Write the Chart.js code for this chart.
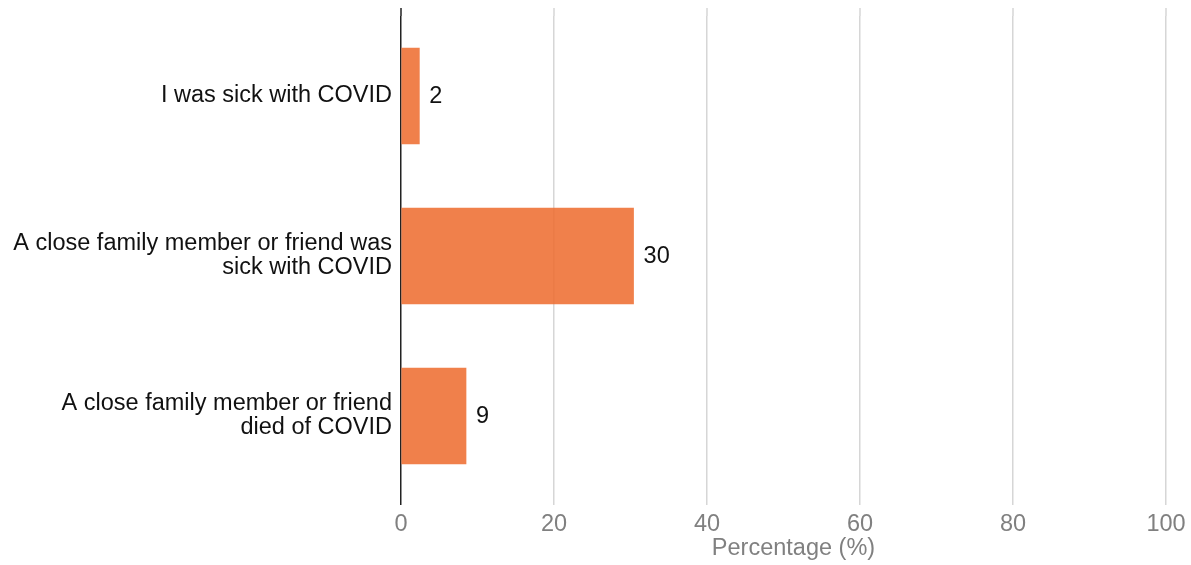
<!DOCTYPE html>
<html>
<head>
<meta charset="utf-8">
<script src="https://cdn.jsdelivr.net/npm/chart.js@4"></script>
<style>
  html, body { margin: 0; padding: 0; background: #fff; }
  #wrap { width: 1191px; height: 565px; }
</style>
</head>
<body>
<div id="wrap"><canvas id="myChart" width="1191" height="565"></canvas></div>
<script>
const categories = [
  "I was sick with COVID",
  ["A close family member or friend was", "sick with COVID"],
  ["A close family member or friend", "died of COVID"]
];
const values = [2.4, 30.4, 8.5];
const xTicks = [0, 20, 40, 60, 80, 100];
const xTitle = "Percentage (%)";

const FONT = "'Liberation Sans', Arial, sans-serif";
const SIZE = 23.5;

// numbers at the end of each bar
const barLabels = {
  id: "barLabels",
  afterDatasetsDraw(chart) {
    const ctx = chart.ctx;
    const meta = chart.getDatasetMeta(0);
    ctx.save();
    ctx.font = SIZE + "px " + FONT;
    ctx.fillStyle = "#111";
    ctx.textAlign = "left";
    ctx.textBaseline = "middle";
    meta.data.forEach((bar, i) => {
      ctx.fillText(Math.round(values[i]), bar.x + 10, bar.y + 1);
    });
    ctx.restore();
  }
};

// grid lines run a bit above the plot area, plus the axis title
const extras = {
  id: "extras",
  beforeDatasetsDraw(chart) {
    const ctx = chart.ctx;
    const x = chart.scales.x;
    const top = chart.chartArea.top;
    ctx.save();
    x.ticks.forEach((t) => {
      const px = x.getPixelForValue(t.value);
      ctx.strokeStyle = t.value === 0 ? "#222" : "#d6d6d6";
      ctx.lineWidth = 1.5;
      ctx.beginPath();
      ctx.moveTo(px, top - 8);
      ctx.lineTo(px, top);
      ctx.stroke();
    });
    ctx.restore();
  },
  afterDraw(chart) {
    const ctx = chart.ctx;
    const area = chart.chartArea;
    ctx.save();
    ctx.font = SIZE + "px " + FONT;
    ctx.fillStyle = "#808080";
    ctx.textAlign = "center";
    ctx.textBaseline = "middle";
    ctx.fillText(xTitle, (area.left + area.right) / 2 + 10, 549);
    ctx.restore();
  }
};

new Chart(document.getElementById("myChart").getContext("2d"), {
  type: "bar",
  data: {
    labels: categories,
    datasets: [{
      data: values,
      backgroundColor: "rgba(238,110,50,0.88)",
      borderWidth: 0,
      barThickness: 96
    }]
  },
  options: {
    indexAxis: "y",
    responsive: false,
    animation: false,
    layout: { padding: { top: 16, right: 25, bottom: 0, left: 0 } },
    plugins: { legend: { display: false }, tooltip: { enabled: false } },
    scales: {
      x: {
        min: 0,
        max: 100,
        afterBuildTicks: (s) => { s.ticks = xTicks.map((v) => ({ value: v })); },
        afterFit: (s) => { s.height = 69; s.paddingLeft = 0; s.paddingRight = 0; },
        border: { display: false },
        grid: {
          color: (c) => (c.tick && c.tick.value === 0 ? "#222" : "#d6d6d6"),
          lineWidth: 1.5,
          drawTicks: true,
          tickLength: 9
        },
        ticks: { color: "#808080", font: { family: FONT, size: SIZE }, padding: 5 },
        title: { display: false }
      },
      y: {
        afterFit: (s) => { s.width = 401; s.paddingTop = 0; s.paddingBottom = 0; },
        border: { display: false },
        grid: { display: false, drawTicks: false },
        ticks: { color: "#111", font: { family: FONT, size: SIZE, lineHeight: 1.02 }, padding: 9 }
      }
    }
  },
  plugins: [barLabels, extras]
});
</script>
</body>
</html>
